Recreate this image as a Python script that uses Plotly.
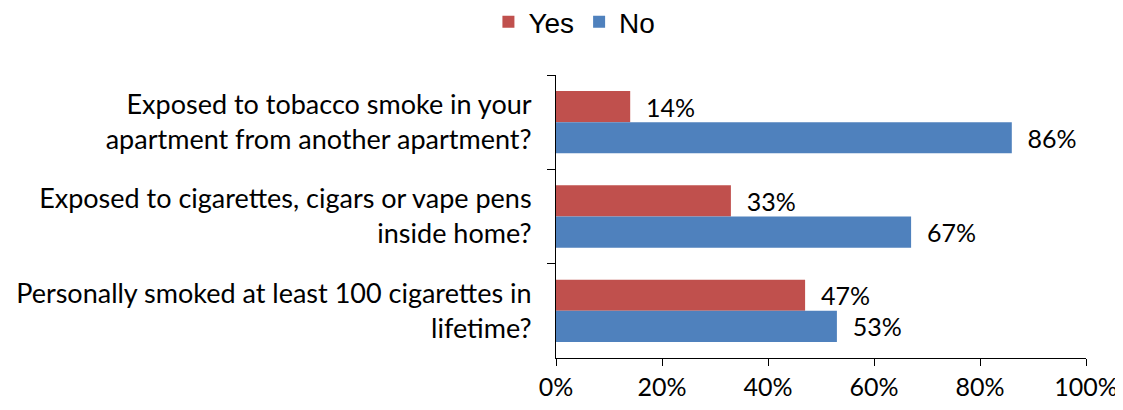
import plotly.graph_objects as go

categories = [
    "Exposed to tobacco smoke in your<br>apartment from another apartment?",
    "Exposed to cigarettes, cigars or vape pens<br>inside home?",
    "Personally smoked at least 100 cigarettes in<br>lifetime?",
]
yes_vals = [14, 33, 47]
no_vals = [86, 67, 53]
x_ticks = [0, 20, 40, 60, 80, 100]

FONT = "Lato"
FS = 25
fig = go.Figure()
fig.add_trace(go.Bar(
    y=categories, x=yes_vals, name="Yes", orientation="h",
    marker=dict(color="#C0504D", line=dict(width=0)),
    text=[f"  {v}%" for v in yes_vals], textposition="outside",
    textfont=dict(family=FONT, size=FS, color="black"),
    cliponaxis=False,
))
fig.add_trace(go.Bar(
    y=categories, x=no_vals, name="No", orientation="h",
    marker=dict(color="#4F81BD", line=dict(width=0)),
    text=[f"  {v}%" for v in no_vals], textposition="outside",
    textfont=dict(family=FONT, size=FS, color="black"),
    cliponaxis=False,
))

# page body has an 8px margin; figure size/margins compensate for it
fig.update_layout(
    width=1115, height=402,
    margin=dict(l=548, r=37, t=67, b=52, autoexpand=False),
    barmode="group", bargap=0.34, bargroupgap=0,
    plot_bgcolor="white", paper_bgcolor="white",
    font=dict(family=FONT, size=FS, color="black"),
    legend=dict(orientation="h", x=0.508, xanchor="center", xref="container",
                y=0.965, yanchor="middle", yref="container",
                font=dict(family="Liberation Sans", size=28),
                itemwidth=30, traceorder="normal", itemclick=False),
    showlegend=True,
)
fig.update_xaxes(
    range=[0, 100], tickvals=x_ticks, ticktext=[f"{v}%" for v in x_ticks],
    showline=True, linecolor="black", linewidth=1,
    ticks="outside", ticklen=7, tickcolor="black",
    showgrid=False, zeroline=False, automargin=False,
    tickfont=dict(family=FONT, size=FS),
)
fig.update_yaxes(
    autorange="reversed", showline=True, linecolor="black", linewidth=1,
    ticks="outside", ticklen=8, tickcolor="black", tickson="boundaries",
    showgrid=False, tickfont=dict(family=FONT, size=27), ticklabelstandoff=18,
    automargin=False,
)
fig.write_html("out.html")
